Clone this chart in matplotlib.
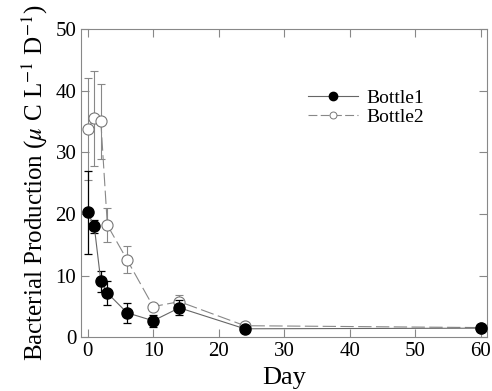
import matplotlib
matplotlib.use("Agg")
import matplotlib.pyplot as plt
from matplotlib.lines import Line2D

plt.rcParams['font.family'] = ['Liberation Serif', 'DejaVu Serif']
plt.rcParams['mathtext.fontset'] = 'stix'

# datos
days = [0, 1, 2, 3, 6, 10, 14, 24, 60]
bottle1 = [20.3, 18.0, 9.1, 7.2, 4.0, 2.7, 4.8, 1.4, 1.5]
bottle1_err = [6.7, 1.0, 1.7, 2.0, 1.6, 1.0, 1.2, 0.3, 0.5]
bottle2 = [33.8, 35.5, 35.0, 18.2, 12.6, 5.0, 5.8, 1.9, 1.6]
bottle2_err = [8.3, 7.7, 6.0, 2.7, 2.2, 0.3, 1.0, 0.3, 0.3]

fig = plt.figure(figsize=(4.92, 3.91), dpi=100)
ax = fig.add_axes([0.165, 0.137, 0.825, 0.789])

ax.errorbar(days, bottle1, yerr=bottle1_err, fmt='o-', color='#666666', lw=0.8,
            mfc='black', mec='black', ms=8, ecolor='black', elinewidth=0.9,
            capsize=3, capthick=0.9, zorder=3)
ax.errorbar(days, bottle2, yerr=bottle2_err, fmt='o', ls=(0, (12, 4)), color='#888888',
            lw=0.8, mfc='white', mec='#777777', ms=8, mew=0.8, ecolor='#888888',
            elinewidth=0.8, capsize=3, capthick=0.8, zorder=2)

ax.set_xlim(-1, 61)
ax.set_ylim(0, 50)
ax.set_xticks([0, 10, 20, 30, 40, 50, 60])
ax.set_yticks([0, 10, 20, 30, 40, 50])
ax.tick_params(direction='in', top=True, right=True, labelsize=15, length=6,
               color='#888888', width=0.8)
for s in ax.spines.values():
    s.set_color('#888888')
    s.set_linewidth(0.8)

ax.set_xlabel('Day', fontsize=19)
ax.set_ylabel(r'Bacterial Production ($\mu$ C L$^{-1}$ D$^{-1}$)', fontsize=18)

# leyenda sin barras de error
h1 = Line2D([], [], color='#666666', lw=0.8, marker='o', ms=6, mfc='black', mec='black')
h2 = Line2D([], [], color='#888888', lw=0.8, ls=(0, (8, 3)), marker='o', ms=5,
            mfc='white', mec='#777777', mew=0.7)
ax.legend([h1, h2], ['Bottle1', 'Bottle2'], loc='upper left',
          bbox_to_anchor=(0.515, 0.86), frameon=False, fontsize=14,
          handlelength=2.6, handletextpad=0.4, labelspacing=0.05)

plt.savefig('out.png', dpi=100)
